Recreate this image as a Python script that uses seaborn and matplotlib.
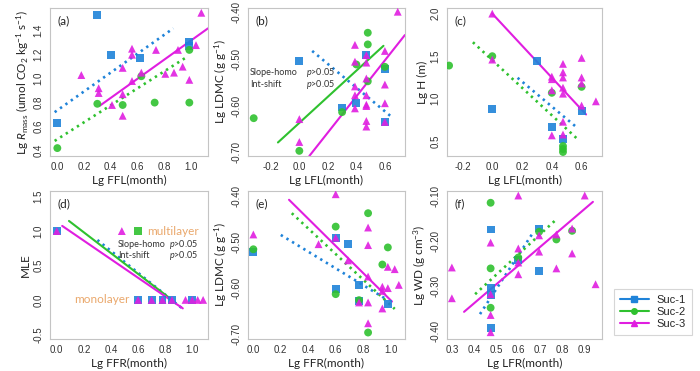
import numpy as np
import pandas as pd
import matplotlib
matplotlib.use("Agg")
import matplotlib.pyplot as plt
import seaborn as sns
from matplotlib.lines import Line2D
from matplotlib.ticker import FormatStrFormatter

sns.set_theme(style="white")
plt.rcParams['font.family'] = ['Lato', 'DejaVu Sans']
plt.rcParams['mathtext.fontset'] = 'custom'
plt.rcParams['mathtext.rm'] = 'Lato'
plt.rcParams['mathtext.it'] = 'Lato:italic'

groups = ['Suc-1', 'Suc-2', 'Suc-3']
palette = {'Suc-1': '#1f83d9', 'Suc-2': '#2fc12f', 'Suc-3': '#e01ee0'}
marker_map = {'Suc-1': 's', 'Suc-2': 'o', 'Suc-3': '^'}

# ---------------- Panel (a): Lg Rmass vs Lg FFL ----------------
a_s1_x = [0.0, 0.30, 0.40, 0.62, 0.99, 0.99]
a_s1_y = [0.63, 1.53, 1.20, 1.17, 1.31, 1.27]
a_s2_x = [0.0, 0.30, 0.49, 0.63, 0.73, 0.99, 0.99]
a_s2_y = [0.42, 0.79, 0.78, 1.02, 0.80, 1.24, 0.80]
a_s3_x = [0.18, 0.31, 0.31, 0.41, 0.49, 0.49, 0.49, 0.56, 0.56, 0.56, 0.63,
          0.74, 0.81, 0.875, 0.905, 0.94, 0.99, 1.04, 1.08]
a_s3_y = [1.03, 0.92, 0.88, 0.78, 1.09, 0.87, 0.69, 1.25, 1.20, 0.98, 1.05,
          1.24, 1.04, 1.05, 1.24, 1.10, 0.99, 1.28, 1.55]
a_fit_x = {'Suc-1': [-0.02, 0.87], 'Suc-2': [-0.02, 0.97], 'Suc-3': [0.32, 1.13]}
a_fit_y = {'Suc-1': [0.72, 1.42], 'Suc-2': [0.48, 1.18], 'Suc-3': [0.775, 1.42]}
a_fit_sig = {'Suc-1': False, 'Suc-2': False, 'Suc-3': True}

# ---------------- Panel (b): Lg LDMC vs Lg LFL ----------------
b_s1_x = [0.0, 0.30, 0.40, 0.60, 0.60, 0.47]
b_s1_y = [-0.505, -0.604, -0.594, -0.522, -0.635, -0.492]
b_s2_x = [-0.32, 0.0, 0.30, 0.40, 0.48, 0.48, 0.48, 0.60]
b_s2_y = [-0.627, -0.697, -0.614, -0.512, -0.444, -0.469, -0.548, -0.517]
b_s3_x = [0.0, 0.0, 0.39, 0.39, 0.39, 0.39, 0.39, 0.47, 0.47, 0.47, 0.47,
          0.47, 0.47, 0.47, 0.47, 0.60, 0.60, 0.60, 0.60, 0.69]
b_s3_y = [-0.629, -0.678, -0.470, -0.506, -0.559, -0.578, -0.606, -0.492,
          -0.508, -0.542, -0.578, -0.598, -0.601, -0.633, -0.645, -0.483,
          -0.555, -0.595, -0.635, -0.399]
b_fit_x = {'Suc-1': [0.09, 0.65], 'Suc-2': [-0.15, 0.59], 'Suc-3': [0.07, 0.74]}
b_fit_y = {'Suc-1': [-0.483, -0.625], 'Suc-2': [-0.679, -0.472], 'Suc-3': [-0.708, -0.449]}
b_fit_sig = {'Suc-1': False, 'Suc-2': True, 'Suc-3': True}

# ---------------- Panel (c): Lg H vs Lg LFL ----------------
c_s1_x = [0.0, 0.30, 0.40, 0.475, 0.60]
c_s1_y = [0.875, 1.44, 0.67, 0.53, 0.855]
c_s2_x = [-0.29, 0.0, 0.40, 0.475, 0.475, 0.475, 0.60]
c_s2_y = [1.39, 1.50, 1.07, 0.445, 0.41, 0.375, 1.14]
c_s3_x = [0.0, 0.0, 0.40, 0.40, 0.40, 0.40, 0.475, 0.475, 0.475, 0.475,
          0.475, 0.475, 0.475, 0.60, 0.60, 0.60, 0.60, 0.696]
c_s3_y = [2.0, 1.46, 1.26, 1.23, 1.10, 0.57, 1.41, 1.31, 1.25, 1.13, 1.06,
          0.73, 0.58, 1.48, 1.25, 1.18, 0.92, 0.97]
c_fit_x = {'Suc-1': [0.17, 0.57], 'Suc-2': [-0.13, 0.57], 'Suc-3': [0.0, 0.63]}
c_fit_y = {'Suc-1': [1.246, 0.66], 'Suc-2': [1.664, 0.531], 'Suc-3': [2.0, 0.816]}
c_fit_sig = {'Suc-1': False, 'Suc-2': False, 'Suc-3': True}

# ---------------- Panel (d): MLE vs Lg FFR ----------------
d_s1_x = [0.0, 0.60, 0.70, 0.78, 0.85, 1.0]
d_s1_y = [1.0, 0.0, 0.0, 0.0, 0.0, 0.0]
d_s2_x = [0.60]
d_s2_y = [1.0]
d_s3_x = [0.0, 0.48, 0.60, 0.70, 0.78, 0.85, 0.95, 1.0, 1.04, 1.08]
d_s3_y = [1.0, 1.0, 0.0, 0.0, 0.0, 0.0, 0.0, 0.0, 0.0, 0.0]
d_fit_x = {'Suc-1': [0.30, 0.93], 'Suc-2': [0.09, 0.85], 'Suc-3': [0.04, 0.93]}
d_fit_y = {'Suc-1': [0.87, -0.13], 'Suc-2': [1.147, 0.0], 'Suc-3': [1.075, -0.123]}
d_fit_sig = {'Suc-1': False, 'Suc-2': True, 'Suc-3': True}

# ---------------- Panel (e): Lg LDMC vs Lg FFR ----------------
e_s1_x = [0.0, 0.60, 0.69, 0.77, 0.98, 0.60, 0.77]
e_s1_y = [-0.521, -0.602, -0.505, -0.593, -0.635, -0.491, -0.628]
e_s2_x = [0.0, 0.60, 0.60, 0.836, 0.836, 0.98, 0.94, 0.77]
e_s2_y = [-0.516, -0.467, -0.613, -0.438, -0.696, -0.512, -0.549, -0.626]
e_s3_x = [0.0, 0.475, 0.60, 0.60, 0.69, 0.77, 0.836, 0.836, 0.836, 0.836,
          0.836, 0.94, 0.94, 0.94, 0.98, 0.98, 1.03, 1.06]
e_s3_y = [-0.484, -0.505, -0.397, -0.491, -0.540, -0.631, -0.469, -0.507,
          -0.575, -0.631, -0.676, -0.597, -0.606, -0.644, -0.554, -0.600,
          -0.559, -0.593]
e_fit_x = {'Suc-1': [0.20, 0.98], 'Suc-2': [0.28, 1.03], 'Suc-3': [0.26, 1.01]}
e_fit_y = {'Suc-1': [-0.485, -0.626], 'Suc-2': [-0.438, -0.645], 'Suc-3': [-0.409, -0.629]}
e_fit_sig = {'Suc-1': False, 'Suc-2': False, 'Suc-3': True}

# ---------------- Panel (f): Lg WD vs Lg LFR ----------------
f_s1_x = [0.475, 0.475, 0.475, 0.475, 0.60, 0.694, 0.694]
f_s1_y = [-0.175, -0.305, -0.320, -0.393, -0.242, -0.173, -0.267]
f_s2_x = [0.475, 0.475, 0.475, 0.60, 0.694, 0.772, 0.843]
f_s2_y = [-0.116, -0.261, -0.348, -0.237, -0.180, -0.197, -0.178]
f_s3_x = [0.30, 0.30, 0.475, 0.475, 0.475, 0.475, 0.60, 0.60, 0.60, 0.60,
          0.694, 0.694, 0.772, 0.772, 0.843, 0.843, 0.90, 0.949]
f_s3_y = [-0.259, -0.327, -0.204, -0.318, -0.364, -0.402, -0.100, -0.217,
          -0.248, -0.274, -0.188, -0.224, -0.186, -0.261, -0.173, -0.228,
          -0.100, -0.296]
f_fit_x = {'Suc-1': [0.427, 0.664], 'Suc-2': [0.405, 0.769], 'Suc-3': [0.355, 0.937]}
f_fit_y = {'Suc-1': [-0.362, -0.184], 'Suc-2': [-0.318, -0.154], 'Suc-3': [-0.357, -0.114]}
f_fit_sig = {'Suc-1': False, 'Suc-2': False, 'Suc-3': True}

W, H = 700, 371
fig = plt.figure(figsize=(W / 100, H / 100), dpi=100)

cols = [(50, 208), (248, 405), (447, 602)]
rows = [(8, 156), (191, 339)]


def make_ax(r, c):
    x0, x1 = cols[c]
    t, b = rows[r]
    return fig.add_axes([x0 / W, 1 - b / H, (x1 - x0) / W, (b - t) / H])


def build_df(s1x, s1y, s2x, s2y, s3x, s3y):
    parts = []
    for g, xs, ys in zip(groups, [s1x, s2x, s3x], [s1y, s2y, s3y]):
        parts.append(pd.DataFrame({'x': xs, 'y': ys, 'grp': g}))
    return pd.concat(parts, ignore_index=True)


def draw_panel(ax, df, fx, fy, fsig, letter, xlabel, ylabel, xlim, ylim,
               xticks, yticks, yfmt, xfmt='%.1f', mmap=None):
    sns.scatterplot(data=df, x='x', y='y', hue='grp', style='grp',
                    palette=palette, markers=mmap or marker_map,
                    hue_order=groups, style_order=groups, s=32, linewidth=0,
                    alpha=0.9, legend=False, ax=ax, zorder=3)
    for g in groups:
        if fsig[g]:
            ax.plot(fx[g], fy[g], color=palette[g], lw=1.5, ls='-', zorder=2)
        else:
            ax.plot(fx[g], fy[g], color=palette[g], lw=1.9, ls=(0, (0.9, 1.6)),
                    zorder=2)
    ax.set_xlim(*xlim)
    ax.set_ylim(*ylim)
    ax.set_xticks(xticks)
    ax.set_yticks(yticks)
    ax.xaxis.set_major_formatter(FormatStrFormatter(xfmt))
    ax.yaxis.set_major_formatter(FormatStrFormatter(yfmt))
    ax.set_xlabel(xlabel, fontsize=8.5, labelpad=2, color='#222222')
    ax.set_ylabel(ylabel, fontsize=8.5, labelpad=2, color='#222222')
    ax.tick_params(axis='both', which='major', direction='out', length=3,
                   width=0.6, color='#999999', labelsize=7, pad=1.5,
                   labelcolor='#333333')
    ax.tick_params(axis='y', labelrotation=90)
    for lab in ax.get_yticklabels():
        lab.set_va('center')
        lab.set_family(['Liberation Sans', 'DejaVu Sans'])
    for lab in ax.get_xticklabels():
        lab.set_family(['Liberation Sans', 'DejaVu Sans'])
    for sp in ax.spines.values():
        sp.set_color('#c4c4c4')
        sp.set_linewidth(0.8)
    ax.text(0.05, 0.95, letter, transform=ax.transAxes, fontsize=8.5,
            va='top', ha='left', color='#222222')


note_kw = dict(fontsize=6.5, va='center', color='#333333')

ax_a = make_ax(0, 0)
draw_panel(ax_a, build_df(a_s1_x, a_s1_y, a_s2_x, a_s2_y, a_s3_x, a_s3_y),
           a_fit_x, a_fit_y, a_fit_sig, '(a)', 'Lg FFL(month)',
           'Lg $R_{\\mathrm{mass}}$ (umol CO$_2$ kg$^{-1}$ s$^{-1}$)',
           (-0.055, 1.13), (0.354, 1.59), [0, 0.2, 0.4, 0.6, 0.8, 1.0],
           [0.4, 0.6, 0.8, 1.0, 1.2, 1.4], '%.1f')

ax_b = make_ax(0, 1)
draw_panel(ax_b, build_df(b_s1_x, b_s1_y, b_s2_x, b_s2_y, b_s3_x, b_s3_y),
           b_fit_x, b_fit_y, b_fit_sig, '(b)', 'Lg LFL(month)',
           'Lg LDMC (g g$^{-1}$)', (-0.36, 0.741), (-0.708, -0.391),
           [-0.2, 0.0, 0.2, 0.4, 0.6], [-0.7, -0.6, -0.5, -0.4], '%.2f')
ax_b.text(-0.345, -0.530, 'Slope-homo', **note_kw)
ax_b.text(0.045, -0.530, '$p$>0.05', **note_kw)
ax_b.text(-0.345, -0.555, 'Int-shift', **note_kw)
ax_b.text(0.045, -0.555, '$p$>0.05', **note_kw)

ax_c = make_ax(0, 2)
draw_panel(ax_c, build_df(c_s1_x, c_s1_y, c_s2_x, c_s2_y, c_s3_x, c_s3_y),
           c_fit_x, c_fit_y, c_fit_sig, '(c)', 'Lg LFL(month)',
           'Lg H (m)', (-0.304, 0.737), (0.328, 2.066),
           [-0.2, 0.0, 0.2, 0.4, 0.6], [0.5, 1.0, 1.5, 2.0], '%.1f')

ax_d = make_ax(1, 0)
draw_panel(ax_d, build_df(d_s1_x, d_s1_y, d_s2_x, d_s2_y, d_s3_x, d_s3_y),
           d_fit_x, d_fit_y, d_fit_sig, '(d)', 'Lg FFR(month)',
           'MLE', (-0.05, 1.116), (-0.568, 1.582),
           [0, 0.2, 0.4, 0.6, 0.8, 1.0], [-0.5, 0.0, 0.5, 1.0, 1.5], '%.1f',
           mmap={'Suc-1': 's', 'Suc-2': 's', 'Suc-3': '^'})
ax_d.text(0.665, 1.0, 'multilayer', fontsize=8.5, va='center', color='#eaa86c')
ax_d.text(0.13, 0.0, 'monolayer', fontsize=8.5, va='center', color='#eaa86c')
ax_d.text(0.45, 0.81, 'Slope-homo', **note_kw)
ax_d.text(0.825, 0.81, '$p$>0.05', **note_kw)
ax_d.text(0.45, 0.64, 'Int-shift', **note_kw)
ax_d.text(0.825, 0.64, '$p$>0.05', **note_kw)

ax_e = make_ax(1, 1)
draw_panel(ax_e, build_df(e_s1_x, e_s1_y, e_s2_x, e_s2_y, e_s3_x, e_s3_y),
           e_fit_x, e_fit_y, e_fit_sig, '(e)', 'Lg FFR(month)',
           'Lg LDMC (g g$^{-1}$)', (-0.039, 1.105), (-0.71, -0.39),
           [0, 0.2, 0.4, 0.6, 0.8, 1.0], [-0.7, -0.6, -0.5, -0.4], '%.2f')

ax_f = make_ax(1, 2)
draw_panel(ax_f, build_df(f_s1_x, f_s1_y, f_s2_x, f_s2_y, f_s3_x, f_s3_y),
           f_fit_x, f_fit_y, f_fit_sig, '(f)', 'Lg LFR(month)',
           'Lg WD (g cm$^{-3}$)', (0.278, 0.978), (-0.417, -0.09),
           [0.3, 0.4, 0.5, 0.6, 0.7, 0.8, 0.9], [-0.4, -0.3, -0.2, -0.1], '%.2f')

handles = [Line2D([0], [0], color=palette[g], marker=marker_map[g], lw=1.5,
                  markersize=4) for g in groups]
leg = fig.legend(handles, groups, loc='center',
                 bbox_to_anchor=(653 / W, 1 - 312 / H),
                 frameon=True, handlelength=2.6,
                 labelspacing=0.2, borderpad=0.55, handletextpad=0.7,
                 borderaxespad=0,
                 prop={'family': ['Liberation Sans', 'DejaVu Sans'], 'size': 8})
leg.get_frame().set_edgecolor('#cccccc')
leg.get_frame().set_linewidth(0.8)
leg.get_frame().set_boxstyle('square', pad=0)

fig.savefig('out.png', dpi=100)
